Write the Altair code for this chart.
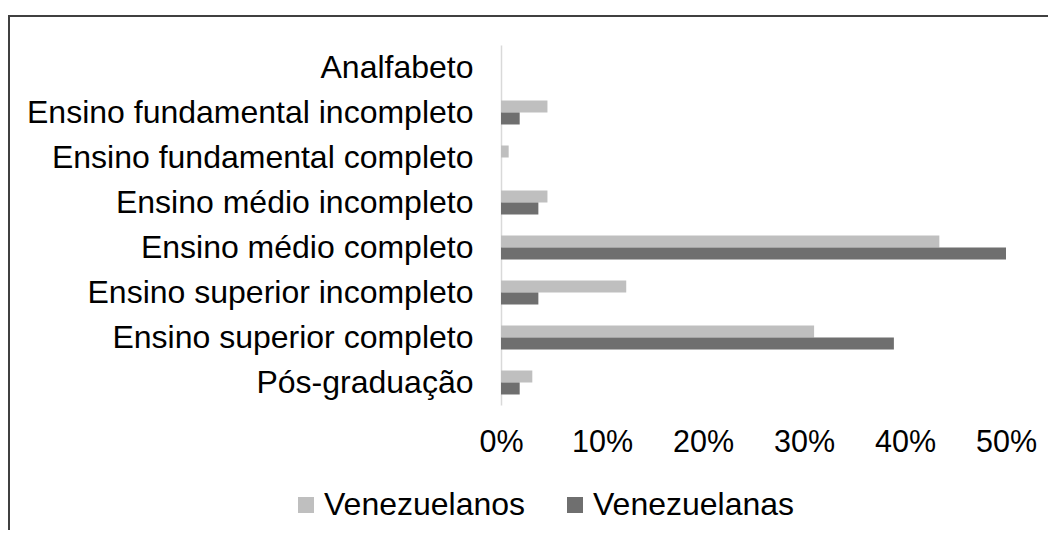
import altair as alt
import pandas as pd

categories = [
    "Analfabeto",
    "Ensino fundamental incompleto",
    "Ensino fundamental completo",
    "Ensino médio incompleto",
    "Ensino médio completo",
    "Ensino superior incompleto",
    "Ensino superior completo",
    "Pós-graduação",
]
series_names = ["Venezuelanos", "Venezuelanas"]
venezuelanos = [0.0, 0.046, 0.0076, 0.046, 0.434, 0.124, 0.310, 0.031]
venezuelanas = [0.0, 0.0185, 0.0, 0.037, 0.500, 0.037, 0.389, 0.0185]
colors = ["#BFBFBF", "#6F6F6F"]
x_ticks = [0, 0.1, 0.2, 0.3, 0.4, 0.5]

rows = []
for c, a, b in zip(categories, venezuelanos, venezuelanas):
    rows.append({"cat": c, "serie": series_names[0], "v": a})
    rows.append({"cat": c, "serie": series_names[1], "v": b})
df = pd.DataFrame(rows)

FONT = "Liberation Sans"

bars = alt.Chart(df).mark_bar(size=12).encode(
    x=alt.X("v:Q",
            scale=alt.Scale(domain=[0, 0.5], nice=False),
            axis=alt.Axis(values=x_ticks, format=".0%", title=None, domain=False,
                          ticks=False, grid=False, labelFontSize=30.5, labelFont=FONT,
                          labelColor="#000000", labelPadding=22, labelFlush=False)),
    y=alt.Y("cat:N", sort=categories,
            scale=alt.Scale(paddingInner=0.467, paddingOuter=0.2335),
            axis=alt.Axis(title=None, ticks=False, domain=True, domainColor="#D9D9D9",
                          domainWidth=1.5, labelFontSize=32, labelFont=FONT,
                          labelColor="#000000", labelPadding=28, labelLimit=0)),
    yOffset=alt.YOffset("serie:N", sort=series_names,
                        scale=alt.Scale(paddingInner=0, paddingOuter=0)),
    color=alt.Color("serie:N", sort=series_names,
                    scale=alt.Scale(domain=series_names, range=colors),
                    legend=alt.Legend(title=None, orient="none", direction="horizontal",
                                      legendX=-211, legendY=444, symbolType="square",
                                      symbolSize=256, symbolStrokeWidth=0,
                                      labelFontSize=32, labelFont=FONT,
                                      labelColor="#000000", labelOffset=2,
                                      labelLimit=0, columnPadding=33, padding=0)),
)

border = alt.Chart(pd.DataFrame({"k": [0]})).mark_rect(
    filled=False, stroke="#404040", strokeWidth=2
).encode(
    x=alt.value(-492), x2=alt.value(700), y=alt.value(-29), y2=alt.value(700)
)

chart = alt.layer(border, bars).properties(
    width=505, height=360,
    background="#FFFFFF",
    autosize=alt.AutoSizeParams(type="none"),
    padding={"left": 493, "top": 37, "right": 42, "bottom": 125},
).configure_view(strokeWidth=0, stroke=None)

chart.save("out.html", embed_options={"renderer": "svg", "actions": False})
